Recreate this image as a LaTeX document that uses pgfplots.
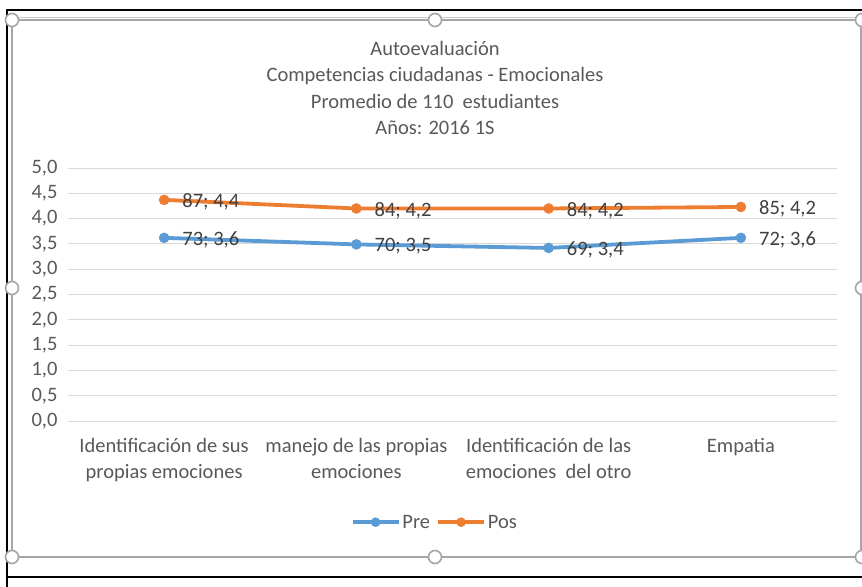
\documentclass[border=0pt]{standalone}
\usepackage{pgfplots}
\pgfplotsset{compat=1.18}
\usepackage{fontspec}
\setmainfont{Carlito}
\definecolor{preblue}{HTML}{5B9BD5}
\definecolor{posorange}{HTML}{ED7D31}
\definecolor{gridgray}{HTML}{D9D9D9}
\definecolor{txtgray}{HTML}{595959}
\definecolor{lblgray}{HTML}{404040}
\definecolor{selgray}{HTML}{A6A6A6}
\begin{document}
\begin{tikzpicture}
\useasboundingbox (0,0) rectangle (862bp,-587bp);
\fill[white] (0,0) rectangle (862bp,-587bp);
% outer black frame (screenshot)
\draw[black, line width=1.6bp] (7bp,-587bp) -- (7bp,-10bp) -- (870bp,-10bp);
\draw[black, line width=1.6bp] (7bp,-577bp) -- (870bp,-577bp);
% selection frame
\draw[selgray, line width=1.2bp] (12bp,-20bp) rectangle (861bp,-557bp);
\draw[selgray!60, line width=1bp] (12bp,-17.5bp) -- (861bp,-17.5bp);
\foreach \p in {(12bp,-20bp),(435bp,-20bp),(862bp,-20bp),(12bp,-288bp),(862bp,-288bp),(12bp,-557bp),(435bp,-557bp),(862bp,-557bp)}
  \draw[selgray, line width=1.6bp, fill=white] \p circle (6.5bp);
% title
\node[anchor=north, align=center, font=\fontsize{20.5bp}{26.3bp}\selectfont, text=txtgray, inner sep=0pt] at (435bp,-41bp)
  {Autoevaluación\\Competencias ciudadanas - Emocionales\\Promedio de 110\ \ estudiantes\\Años: 2016 1S};
\begin{axis}[
  at={(68bp,-421bp)}, anchor=south west,
  scale only axis, width=769bp, height=253bp,
  xmin=-0.5, xmax=3.5, ymin=0, ymax=5,
  axis line style={draw=none},
  tick style={draw=none},
  ymajorgrids, grid style={gridgray, line width=1bp},
  ytick={0,0.5,...,5},
  xtick={0,1,2,3},
  xticklabels={Identificación de sus\\propias emociones, manejo de las propias\\emociones, Identificación de las\\emociones\ \ del otro, Empatia},
  xticklabel style={align=center, font=\fontsize{20.5bp}{26bp}\selectfont, text=txtgray, yshift=-14bp},
  yticklabel style={font=\fontsize{20.5bp}{22bp}\selectfont, text=txtgray, xshift=-7bp, /pgf/number format/.cd, fixed, fixed zerofill, precision=1, use comma, assume math mode=true},
  major tick length=0pt,
  point meta=explicit,
  nodes near coords={\pgfmathprintnumber[fixed,precision=0,assume math mode=true]{\pgfplotspointmeta};\ \pgfmathprintnumber[fixed,fixed zerofill,precision=1,use comma,assume math mode=true]{\pgfkeysvalueof{/data point/y}}},
  nodes near coords style={anchor=west, xshift=16bp, yshift=-2bp, font=\fontsize{20.5bp}{22bp}\selectfont, text=lblgray, inner sep=2bp},
  legend columns=2,
  legend style={at={(0.477,-0.4)}, anchor=center, draw=none, fill=none, font=\fontsize{20.5bp}{22bp}\selectfont, text=txtgray, column sep=4bp, /tikz/every odd column/.append style={column sep=0bp}},
  legend image code/.code={\draw[#1] (0bp,0bp) -- (46bp,0bp); \draw[#1, mark=*, mark size=4.5bp] plot coordinates {(23bp,0bp)};},
]
\addplot[preblue, line width=3.8bp, mark=*, mark size=5bp, mark options={solid, fill=preblue, draw=preblue, line width=0.5bp}]
  table[x=x, y=y, meta=pct] {
x y pct
0 3.62 73
1 3.49 70
2 3.42 69
3 3.62 72
};
\addlegendentry{Pre}
\addplot[posorange, line width=3.8bp, mark=*, mark size=5bp, mark options={solid, fill=posorange, draw=posorange, line width=0.5bp}]
  table[x=x, y=y, meta=pct] {
x y pct
0 4.37 87
1 4.20 84
2 4.20 84
3 4.23 85
};
\addlegendentry{Pos}
\end{axis}
\end{tikzpicture}
\end{document}
